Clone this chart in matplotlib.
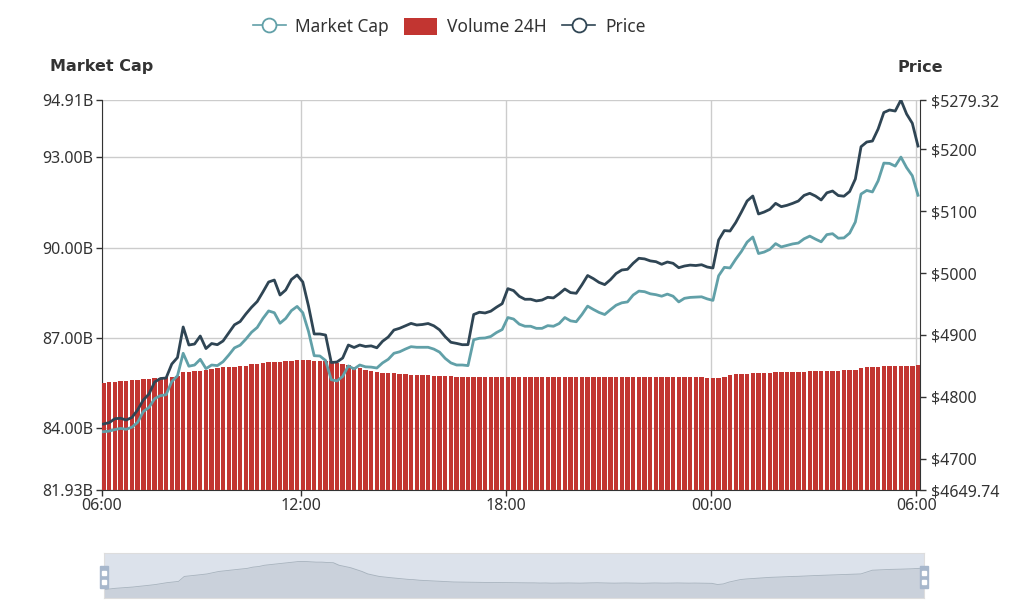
import pandas as pd
import matplotlib.pyplot as plt
from matplotlib.lines import Line2D
from matplotlib.patches import Patch, Rectangle

plt.rcParams['font.family'] = ['Noto Sans', 'DejaVu Sans']

# 10분 간격 데이터 (06:13 ~ 다음날 06:03)
times = pd.date_range('2019-04-03 06:13', periods=144, freq='10min')

market_cap = [
    83.87, 83.89, 83.94, 83.98, 83.95, 84.02, 84.18, 84.54, 84.68, 84.97,
    85.07, 85.10, 85.54, 85.73, 86.48, 86.05, 86.09, 86.28, 85.97, 86.09,
    86.07, 86.20, 86.42, 86.66, 86.75, 86.95, 87.18, 87.34, 87.64, 87.89,
    87.83, 87.48, 87.64, 87.90, 88.04, 87.83, 87.21, 86.40, 86.39, 86.24,
    85.60, 85.56, 85.71, 86.06, 85.96, 86.09, 86.03, 86.02, 85.99, 86.16,
    86.28, 86.48, 86.53, 86.62, 86.70, 86.68, 86.68, 86.68, 86.62, 86.52,
    86.31, 86.16, 86.09, 86.09, 86.07, 86.93, 86.98, 86.99, 87.04, 87.17,
    87.27, 87.67, 87.62, 87.45, 87.38, 87.38, 87.31, 87.31, 87.40, 87.38,
    87.47, 87.67, 87.56, 87.53, 87.77, 88.05, 87.94, 87.84, 87.77, 87.93,
    88.08, 88.16, 88.19, 88.42, 88.55, 88.53, 88.46, 88.43, 88.38, 88.45,
    88.38, 88.19, 88.31, 88.34, 88.35, 88.36, 88.29, 88.24, 89.06, 89.34,
    89.32, 89.61, 89.87, 90.18, 90.35, 89.80, 89.85, 89.94, 90.13, 90.02,
    90.07, 90.12, 90.15, 90.29, 90.38, 90.28, 90.19, 90.43, 90.46, 90.31,
    90.32, 90.48, 90.85, 91.78, 91.90, 91.85, 92.22, 92.81, 92.80, 92.71,
    93.01, 92.66, 92.39, 91.74,
]

volume_24h = [
    13.78, 13.85, 13.91, 13.95, 14.00, 14.04, 14.10, 14.17, 14.23, 14.30,
    14.39, 14.49, 14.55, 14.62, 15.13, 15.19, 15.26, 15.32, 15.39, 15.51,
    15.64, 15.71, 15.77, 15.83, 15.90, 15.96, 16.09, 16.15, 16.28, 16.35,
    16.41, 16.47, 16.54, 16.60, 16.67, 16.67, 16.64, 16.60, 16.60, 16.56,
    16.54, 16.28, 16.15, 16.03, 15.83, 15.64, 15.39, 15.26, 15.13, 15.06,
    15.00, 14.94, 14.87, 14.83, 14.80, 14.74, 14.71, 14.68, 14.65, 14.62,
    14.59, 14.56, 14.55, 14.54, 14.53, 14.52, 14.51, 14.51, 14.50, 14.50,
    14.49, 14.49, 14.48, 14.48, 14.47, 14.47, 14.45, 14.46, 14.44, 14.45,
    14.47, 14.46, 14.45, 14.44, 14.46, 14.47, 14.48, 14.46, 14.45, 14.44,
    14.45, 14.46, 14.45, 14.44, 14.43, 14.45, 14.46, 14.45, 14.44, 14.45,
    14.46, 14.45, 14.44, 14.45, 14.44, 14.43, 14.42, 14.30, 14.36, 14.55,
    14.68, 14.81, 14.87, 14.91, 14.96, 15.00, 15.03, 15.05, 15.08, 15.10,
    15.13, 15.14, 15.17, 15.19, 15.22, 15.24, 15.26, 15.28, 15.30, 15.32,
    15.35, 15.37, 15.39, 15.58, 15.77, 15.80, 15.82, 15.85, 15.86, 15.88,
    15.90, 15.92, 15.96, 15.99,
]

price = [
    4756.3, 4758.4, 4764.7, 4765.6, 4762.7, 4766.8, 4778.9, 4795.0, 4804.7, 4824.1,
    4829.7, 4830.5, 4853.1, 4863.6, 4912.9, 4883.8, 4885.4, 4898.3, 4878.1, 4886.2,
    4884.3, 4890.3, 4903.2, 4916.4, 4921.7, 4933.8, 4944.7, 4954.0, 4969.4, 4985.5,
    4988.7, 4964.5, 4972.6, 4989.5, 4996.8, 4985.5, 4946.8, 4901.6, 4901.6, 4899.9,
    4855.5, 4856.4, 4862.8, 4883.8, 4879.8, 4883.8, 4881.4, 4882.4, 4879.3, 4889.8,
    4896.7, 4908.0, 4910.8, 4914.8, 4918.7, 4916.1, 4916.9, 4918.5, 4914.8, 4908.3,
    4897.2, 4888.2, 4886.4, 4884.3, 4884.4, 4933.0, 4936.7, 4935.5, 4938.4, 4944.8,
    4950.5, 4974.8, 4971.6, 4962.4, 4957.6, 4957.7, 4955.0, 4956.4, 4960.8, 4959.8,
    4966.5, 4974.2, 4968.4, 4967.3, 4981.0, 4996.0, 4991.0, 4984.9, 4981.3, 4989.2,
    4999.2, 5004.9, 5006.0, 5015.8, 5023.8, 5022.8, 5019.6, 5018.3, 5014.1, 5017.8,
    5015.7, 5008.6, 5011.3, 5012.8, 5012.1, 5013.4, 5009.7, 5008.1, 5053.3, 5068.5,
    5067.8, 5081.5, 5098.5, 5116.3, 5124.3, 5095.3, 5098.5, 5102.9, 5112.5, 5107.1,
    5109.3, 5112.5, 5116.3, 5125.3, 5128.7, 5124.3, 5117.9, 5129.5, 5132.4, 5125.1,
    5124.0, 5131.6, 5151.8, 5203.9, 5211.5, 5213.1, 5232.5, 5259.1, 5263.2, 5261.5,
    5279.3, 5256.7, 5241.8, 5205.0,
]

cap_ticks = [81.93, 84.00, 87.00, 90.00, 93.00, 94.91]
price_ticks = [4649.74, 4700, 4800, 4900, 5000, 5100, 5200, 5279.32]
time_labels = ['06:00', '12:00', '18:00', '00:00', '06:00']
time_ticks = ['2019-04-03 12:00', '2019-04-03 18:00', '2019-04-04 00:00', '2019-04-04 06:00']

C_CAP, C_VOL, C_PRICE = '#61a0a8', '#c23531', '#2f4554'
C_AXIS, C_GRID, C_TEXT = '#333333', '#cccccc', '#333333'

W, H = 1023, 609
fig = plt.figure(figsize=(W / 100, H / 100), dpi=100)
rect = [102 / W, 1 - 490 / H, 818 / W, 390 / H]

x_min = pd.Timestamp('2019-04-03 06:10:30')
x_max = pd.Timestamp('2019-04-04 06:06:30')

# 기준 축 (시가총액 눈금 + 그리드)
ax = fig.add_axes(rect)
ax.set_xlim(x_min, x_max)
ax.set_ylim(cap_ticks[0], cap_ticks[-1])
ax.set_yticks(cap_ticks)
ax.set_yticklabels([f'{v:.2f}B' for v in cap_ticks])
ax.set_xticks([x_min] + [pd.Timestamp(t) for t in time_ticks])
ax.set_xticklabels(time_labels)
ax.grid(True, color=C_GRID, lw=1)
for s in ['top', 'right']:
    ax.spines[s].set_visible(False)
for s in ['left', 'bottom']:
    ax.spines[s].set_color(C_AXIS)
ax.tick_params(colors=C_AXIS, labelcolor=C_TEXT, labelsize=11.5, length=4, width=1, pad=2)

# 거래량 막대
ax_v = ax.twinx()
ax_v.bar(times, volume_24h, width=10 / 1440 * 0.78, color=C_VOL, linewidth=0)
ax_v.set_ylim(0, 50)
ax_v.axis('off')
ax_v.set_xlim(x_min, x_max)

# 시가총액 선
ax_m = ax.twinx()
ax_m.plot(times, market_cap, color=C_CAP, lw=2)
ax_m.set_ylim(cap_ticks[0], cap_ticks[-1])
ax_m.axis('off')
ax_m.set_xlim(x_min, x_max)

# 가격 선 (오른쪽 축)
ax_p = ax.twinx()
ax_p.plot(times, price, color=C_PRICE, lw=2)
ax_p.set_ylim(price_ticks[0], price_ticks[-1])
ax_p.set_yticks(price_ticks)
ax_p.set_yticklabels([f'${v:g}' for v in price_ticks])
for s in ['top', 'left', 'bottom']:
    ax_p.spines[s].set_visible(False)
ax_p.spines['right'].set_color(C_AXIS)
ax_p.tick_params(colors=C_AXIS, labelcolor=C_TEXT, labelsize=11.5, length=4, width=1, pad=4)
ax_p.set_xlim(x_min, x_max)

fig.text(102 / W, 1 - 67 / H, 'Market Cap', ha='center', va='center', family='DejaVu Sans',
         fontsize=11.5, fontweight='bold', color=C_TEXT)
fig.text(920 / W, 1 - 67 / H, 'Price', ha='center', va='center', family='DejaVu Sans',
         fontsize=11.5, fontweight='bold', color=C_TEXT)

handles = [
    Line2D([], [], color=C_CAP, lw=1.2, marker='o', markersize=10,
           markerfacecolor='white', markeredgewidth=1.3),
    Patch(facecolor=C_VOL, edgecolor='none'),
    Line2D([], [], color=C_PRICE, lw=1.2, marker='o', markersize=10,
           markerfacecolor='white', markeredgewidth=1.3),
]
fig.legend(handles, ['Market Cap', 'Volume 24H', 'Price'], loc='center',
           bbox_to_anchor=(449 / W, 1 - 27 / H), ncol=3, frameon=False,
           fontsize=12.5, handlelength=1.9, handleheight=1.1, handletextpad=0.55,
           columnspacing=0.9, labelcolor=C_TEXT)

# 하단 dataZoom 슬라이더
ax_s = fig.add_axes([104 / W, 1 - 598 / H, 820 / W, 45 / H])
ax_s.set_facecolor('#dce2eb')
v_lo, v_hi = min(volume_24h), max(volume_24h)
pad = (v_hi - v_lo) * 0.3
ax_s.fill_between(times, volume_24h, v_lo - pad, color=C_PRICE, alpha=0.1, lw=0)
ax_s.plot(times, volume_24h, color=C_PRICE, alpha=0.3, lw=0.6)
ax_s.set_ylim(v_lo - pad, v_hi + pad)
ax_s.set_xlim(times[0], times[-1])
ax_s.set_xticks([])
ax_s.set_yticks([])
for s in ax_s.spines.values():
    s.set_color('#dddddd')

for hx in (104, 924):
    fig.patches.append(Rectangle(((hx - 4) / W, 1 - 588 / H), 8 / W, 22 / H,
                                 transform=fig.transFigure, color='#a7b7cc'))
    for hy in (571, 580):
        fig.patches.append(Rectangle(((hx - 2) / W, 1 - (hy + 4) / H), 4 / W, 4 / H,
                                     transform=fig.transFigure, color='white'))

fig.savefig('out.png', dpi=100)
